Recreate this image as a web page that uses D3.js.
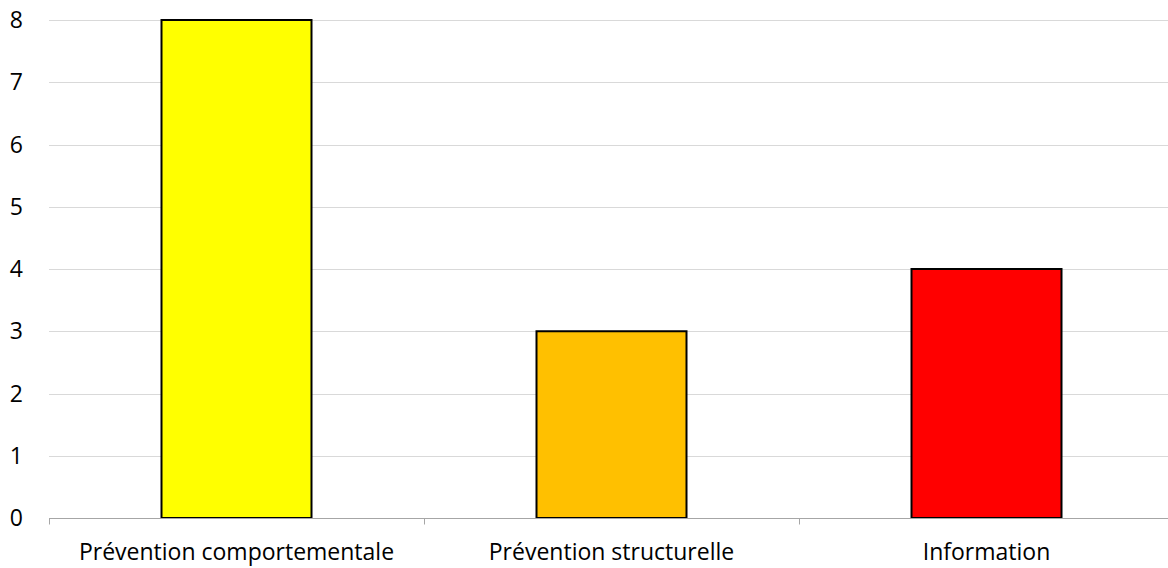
<!DOCTYPE html>
<html><head><meta charset="utf-8">
<script src="https://cdn.jsdelivr.net/npm/d3@7"></script>
<style>body{margin:0;background:#fff}svg{display:block}</style>
</head><body>
<svg id="c" width="1168" height="568"></svg>
<script>
const categories = ["Prévention comportementale", "Prévention structurelle", "Information"];
const values = [8, 3, 4];
const colors = ["#FFFF00", "#FFC000", "#FF0000"];
const yTicks = [0, 1, 2, 3, 4, 5, 6, 7, 8];

const svg = d3.select("#c");
const W = 1168, H = 568;
const left = 49;
const x = d3.scaleBand().domain(categories).range([left, 1174]).paddingInner(0).paddingOuter(0);
const y = d3.scaleLinear().domain([0, 8]).range([518, 20]);
const font = "Open Sans, Liberation Sans, sans-serif";
const fs = 23;

// gridlines
svg.append("g").selectAll("line").data(yTicks.filter(d => d > 0)).join("line")
  .attr("x1", left).attr("x2", W).attr("y1", d => Math.round(y(d)) + 0.5).attr("y2", d => Math.round(y(d)) + 0.5)
  .attr("stroke", "#d9d9d9").attr("stroke-width", 1);

// bars
const bw = 150;
svg.append("g").selectAll("rect").data(categories).join("rect")
  .attr("x", (d) => x(d) + x.bandwidth() / 2 - bw / 2)
  .attr("y", (d, i) => y(values[i]))
  .attr("width", bw)
  .attr("height", (d, i) => y(0) - y(values[i]))
  .attr("fill", (d, i) => colors[i])
  .attr("stroke", "#000").attr("stroke-width", 2);

// x axis
const xa = svg.append("g").attr("transform", `translate(0,${Math.round(y(0)) + 0.5})`);
xa.append("line").attr("x1", left).attr("x2", W).attr("stroke", "#a6a6a6");
const bounds = categories.map(c => x(c));
xa.selectAll("line.t").data(bounds).join("line").attr("class", "t")
  .attr("x1", d => Math.round(d) + 0.5).attr("x2", d => Math.round(d) + 0.5).attr("y1", 0).attr("y2", 6)
  .attr("stroke", "#a6a6a6");
xa.selectAll("text").data(categories).join("text")
  .attr("x", d => x(d) + x.bandwidth() / 2).attr("y", 41)
  .attr("text-anchor", "middle").attr("font-family", font).attr("font-size", fs).attr("fill", "#000")
  .text(d => d);

// y axis labels
svg.append("g").selectAll("text").data(yTicks).join("text")
  .attr("x", 23).attr("y", d => y(d)).attr("dy", "0.35em")
  .attr("text-anchor", "end").attr("font-family", font).attr("font-size", fs).attr("fill", "#000")
  .text(d => d);
</script>
</body></html>
